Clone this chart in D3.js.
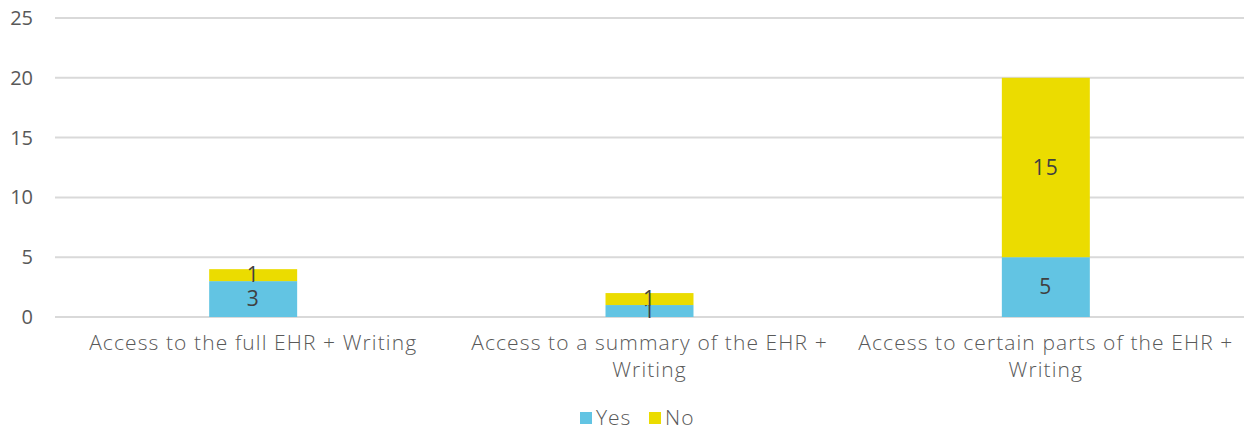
<!DOCTYPE html>
<html lang="en">
<head>
    <meta charset="UTF-8">
    <title>Chart</title>
    <style>
        body { margin: 0; background: #fff; }
        svg { display: block; font-family: "Open Sans", sans-serif; }
    </style>
</head>
<body>
    <div id="chart"></div>
    <script src="https://d3js.org/d3.v7.min.js"></script>
    <script>
        const categories = [
            'Access to the full EHR + Writing',
            'Access to a summary of the EHR + Writing',
            'Access to certain parts of the EHR + Writing'
        ]
        const yesValues = [3, 1, 5]
        const noValues = [1, 1, 15]
        const seriesNames = ['Yes', 'No']
        const yTicks = [0, 5, 10, 15, 20, 25]
        const colors = ['#62c4e3', '#ebdc00']

        const width = 1244
        const height = 432
        const margin = { top: 18, right: 0, bottom: 115, left: 55 }

        const svg = d3.select('#chart').append('svg')
            .attr('width', width)
            .attr('height', height)

        const x = d3.scaleBand()
            .domain(categories)
            .range([margin.left, width - margin.right])
            .paddingInner(0.778)
            .paddingOuter(0.389)

        const y = d3.scaleLinear()
            .domain([0, 25])
            .range([height - margin.bottom, margin.top])

        // gridlines
        svg.append('g')
            .selectAll('line')
            .data(yTicks)
            .join('line')
            .attr('x1', margin.left)
            .attr('x2', width - margin.right)
            .attr('y1', d => y(d))
            .attr('y2', d => y(d))
            .attr('stroke', '#d9d9d9')
            .attr('stroke-width', 2)

        // y tick labels
        svg.append('g')
            .selectAll('text')
            .data(yTicks)
            .join('text')
            .attr('x', 33)
            .attr('y', d => y(d))
            .attr('dy', '0.35em')
            .attr('text-anchor', 'end')
            .attr('fill', '#595959')
            .attr('font-size', 20)
            .text(d => d)

        const table = categories.map((c, i) => ({ cat: c, Yes: yesValues[i], No: noValues[i] }))
        const stacked = d3.stack().keys(seriesNames)(table)

        const layers = svg.append('g')
            .selectAll('g')
            .data(stacked)
            .join('g')
            .attr('fill', (d, i) => colors[i])

        layers.selectAll('rect')
            .data(d => d)
            .join('rect')
            .attr('x', d => x(d.data.cat))
            .attr('width', x.bandwidth())
            .attr('y', d => y(d[1]))
            .attr('height', d => y(d[0]) - y(d[1]))

        layers.selectAll('text')
            .data(d => d)
            .join('text')
            .attr('x', d => x(d.data.cat) + x.bandwidth() / 2)
            .attr('y', d => (y(d[0]) + y(d[1])) / 2)
            .attr('dy', '0.35em')
            .attr('text-anchor', 'middle')
            .attr('fill', '#404040')
            .attr('font-size', 21)
            .attr('letter-spacing', 1)
            .text(d => d[1] - d[0])

        // category labels with wrapping
        const labelWidth = 385
        svg.append('g')
            .selectAll('text')
            .data(categories)
            .join('text')
            .attr('x', d => x(d) + x.bandwidth() / 2)
            .attr('y', y(0) + 33)
            .attr('text-anchor', 'middle')
            .attr('fill', '#595959')
            .attr('font-size', 21)
            .attr('font-weight', 300)
            .attr('letter-spacing', 1.1)
            .each(function (d) {
                const t = d3.select(this)
                const cx = +t.attr('x')
                const words = d.split(' ')
                let line = []
                let tspan = t.append('tspan').attr('x', cx)
                words.forEach(w => {
                    line.push(w)
                    tspan.text(line.join(' '))
                    if (tspan.node().getComputedTextLength() > labelWidth && line.length > 1) {
                        line.pop()
                        tspan.text(line.join(' '))
                        line = [w]
                        tspan = t.append('tspan').attr('x', cx).attr('dy', 27).text(w)
                    }
                })
            })

        // legend
        const legend = svg.append('g').attr('transform', 'translate(580, 418)')
        const items = [{ name: seriesNames[0], x: 0 }, { name: seriesNames[1], x: 69 }]
        items.forEach((it, i) => {
            legend.append('rect')
                .attr('x', it.x)
                .attr('y', -6)
                .attr('width', 12)
                .attr('height', 12)
                .attr('fill', colors[i])
            legend.append('text')
                .attr('x', it.x + 16)
                .attr('y', 0)
                .attr('dy', '0.35em')
                .attr('fill', '#595959')
                .attr('font-size', 21)
                .attr('font-weight', 300)
                .attr('letter-spacing', 1)
                .text(it.name)
        })
    </script>
</body>
</html>
